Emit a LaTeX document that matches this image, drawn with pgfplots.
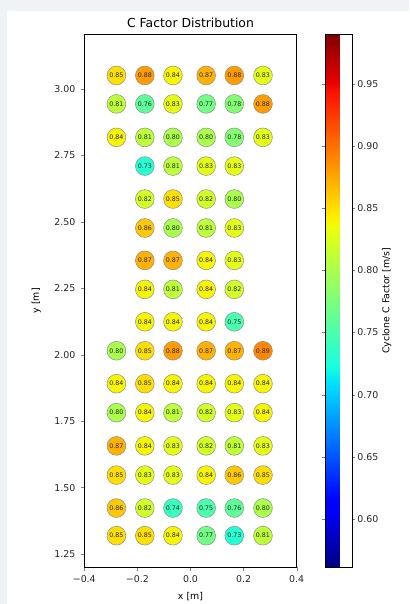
\documentclass[border=0pt]{standalone}
\usepackage{fontspec}
\setmainfont{DejaVu Sans}
\usepackage{pgfplots}
\usepackage{pgfplotstable}
\pgfplotsset{compat=1.18}

\definecolor{pagebg}{RGB}{239,243,246}

% matplotlib-style jet
\pgfplotsset{colormap={mpljet}{rgb(0pt)=(0,0,0.5) rgb(22pt)=(0,0,1) rgb(25pt)=(0,0,1)
  rgb(68pt)=(0,0.86,1) rgb(70pt)=(0,0.9,0.968) rgb(75pt)=(0.081,1,0.887)
  rgb(128pt)=(0.935,1,0.032) rgb(130pt)=(0.968,0.963,0) rgb(132pt)=(1,0.926,0)
  rgb(178pt)=(1,0.074,0) rgb(182pt)=(0.909,0,0) rgb(200pt)=(0.5,0,0)}}

\pgfplotstableread{
x y c
-0.279 3.051 0.85
-0.172 3.051 0.88
-0.066 3.051 0.84
0.059 3.051 0.87
0.165 3.051 0.88
0.273 3.051 0.83
-0.279 2.944 0.81
-0.172 2.944 0.76
-0.066 2.944 0.83
0.059 2.944 0.77
0.165 2.944 0.78
0.273 2.944 0.88
-0.279 2.818 0.84
-0.172 2.818 0.81
-0.066 2.818 0.80
0.059 2.818 0.80
0.165 2.818 0.78
0.273 2.818 0.83
-0.172 2.710 0.73
-0.066 2.710 0.81
0.059 2.710 0.83
0.165 2.710 0.83
-0.172 2.586 0.82
-0.066 2.586 0.85
0.059 2.586 0.82
0.165 2.586 0.80
-0.172 2.477 0.86
-0.066 2.477 0.80
0.059 2.477 0.81
0.165 2.477 0.83
-0.172 2.355 0.87
-0.066 2.355 0.87
0.059 2.355 0.84
0.165 2.355 0.83
-0.172 2.246 0.84
-0.066 2.246 0.81
0.059 2.246 0.84
0.165 2.246 0.82
-0.172 2.124 0.84
-0.066 2.124 0.84
0.059 2.124 0.84
0.165 2.124 0.75
-0.279 2.015 0.80
-0.172 2.015 0.85
-0.066 2.015 0.88
0.059 2.015 0.87
0.165 2.015 0.87
0.273 2.015 0.89
-0.279 1.891 0.84
-0.172 1.891 0.85
-0.066 1.891 0.84
0.059 1.891 0.84
0.165 1.891 0.84
0.273 1.891 0.84
-0.279 1.782 0.80
-0.172 1.782 0.84
-0.066 1.782 0.81
0.059 1.782 0.82
0.165 1.782 0.83
0.273 1.782 0.84
-0.279 1.657 0.87
-0.172 1.657 0.84
-0.066 1.657 0.83
0.059 1.657 0.82
0.165 1.657 0.81
0.273 1.657 0.83
-0.279 1.547 0.85
-0.172 1.547 0.83
-0.066 1.547 0.83
0.059 1.547 0.84
0.165 1.547 0.86
0.273 1.547 0.85
-0.279 1.423 0.86
-0.172 1.423 0.82
-0.066 1.423 0.74
0.059 1.423 0.75
0.165 1.423 0.76
0.273 1.423 0.80
-0.279 1.319 0.85
-0.172 1.319 0.85
-0.066 1.319 0.84
0.059 1.319 0.77
0.165 1.319 0.73
0.273 1.319 0.81
}\cdata

\begin{document}
\begin{tikzpicture}
\fill[pagebg] (0,0) rectangle (409pt,604pt);
\fill[white] (7pt,0) rectangle (409pt,593pt);
\begin{axis}[
    at={(84.3pt,36.7pt)}, anchor=south west,
    width=212.4pt, height=533pt, scale only axis,
    xmin=-0.4, xmax=0.4, ymin=1.2, ymax=3.206,
    xtick={-0.4,-0.2,0,0.2,0.4},
    xticklabels={−0.4,−0.2,0.0,0.2,0.4},
    ytick={1.25,1.5,1.75,2.0,2.25,2.5,2.75,3.0},
    yticklabel style={xshift=-2pt, /pgf/number format/.cd, fixed, fixed zerofill, precision=2, assume math mode=true},
    xticklabel style={yshift=-1pt},
    tick label style={font=\fontsize{9.4}{11}\selectfont, text=black!85},
    tick align=outside, tick pos=left, major tick length=3.5pt,
    axis line style={line width=0.6pt},
    title={C Factor Distribution},
    title style={font=\fontsize{12.4}{14}\selectfont, at={(0.5,1)}, anchor=center, yshift=5.5pt},
    xlabel={x [m]}, ylabel={y [m]},
    label style={font=\fontsize{9.4}{11}\selectfont},
    xlabel style={at={(axis description cs:0.5,0)}, anchor=center, yshift=-29.5pt},
    ylabel style={at={(axis description cs:0,0.5)}, anchor=center, yshift=48pt},
    colormap name=mpljet,
    point meta min=0.561, point meta max=0.990,
    colorbar,
    colorbar style={
        at={(parent axis.north east)}, anchor=north west, xshift=20pt,
        width=26.6pt, height=533pt, scale only axis,
        ytick={0.6,0.65,0.7,0.75,0.8,0.85,0.9,0.95},
        yticklabel style={font=\fontsize{9.4}{11}\selectfont, text=black!85, xshift=-1.5pt,
            /pgf/number format/.cd, fixed, fixed zerofill, precision=2, assume math mode=true},
        tick align=outside, major tick length=3.5pt,
        ylabel={Cyclone C Factor [m/s]},
        ylabel style={font=\fontsize{9.4}{11}\selectfont, at={(axis description cs:1,0.5)}, anchor=center, yshift=-35pt},
    },
]
\addplot[scatter, only marks, mark=*, mark size=9.4pt,
    scatter/use mapped color={draw=black!45, fill=mapped color, line width=0.5pt},
    point meta=explicit,
    nodes near coords*={\pgfmathprintnumber[fixed,fixed zerofill,precision=2,assume math mode=true]{\pgfplotspointmeta}},
    nodes near coords style={anchor=center, font=\fontsize{6.3}{7}\selectfont, text=black!85}]
    table[x=x, y=y, meta=c] {\cdata};
\end{axis}
\pgfresetboundingbox
\useasboundingbox (0,0) rectangle (409pt,604pt);
\end{tikzpicture}
\end{document}
